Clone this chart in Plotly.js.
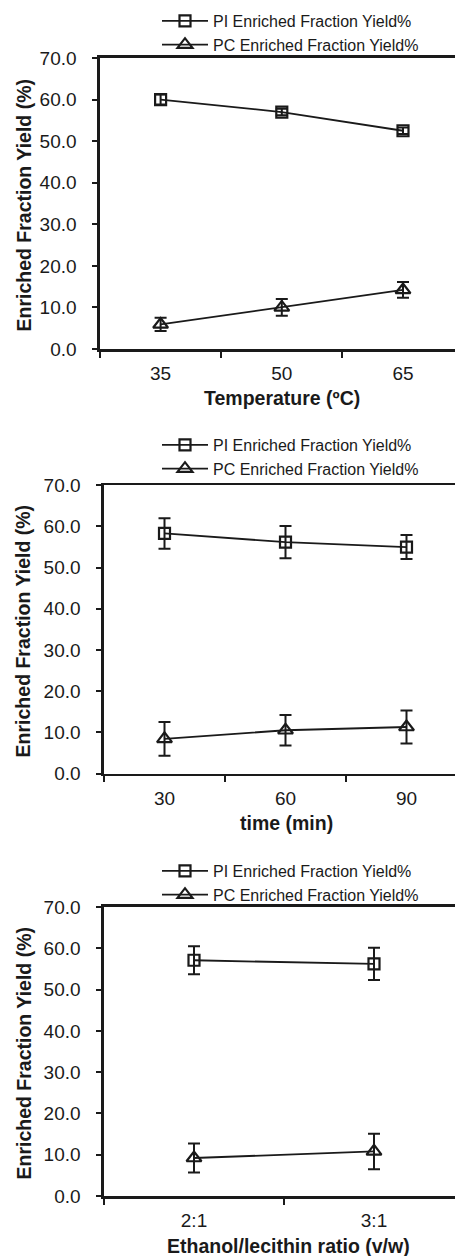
<!DOCTYPE html>
<html><head><meta charset="utf-8">
<script src="https://cdn.plot.ly/plotly-3.0.1.min.js"></script>
<style>html,body{margin:0;padding:0;background:#fff}#c{width:455px;height:1256px}</style>
</head><body><div id="c"></div>
<script>
// ---- data ----
const seriesNames = ['PI Enriched Fraction Yield%', 'PC Enriched Fraction Yield%'];
const yTitle = 'Enriched Fraction Yield (%)';
const xTitles = ['Temperature (ºC)', 'time (min)', 'Ethanol/lecithin ratio (v/w)'];

const tempCats = ['35', '50', '65'];
const tempPI = [60.0, 57.0, 52.5];
const tempPIerr = [1.2, 0.8, 0.8];
const tempPC = [5.9, 10.0, 14.2];
const tempPCerr = [1.6, 2.0, 1.9];

const timeCats = ['30', '60', '90'];
const timePI = [58.3, 56.2, 55.0];
const timePIerr = [3.7, 3.9, 2.9];
const timePC = [8.4, 10.5, 11.3];
const timePCerr = [4.1, 3.7, 4.0];

const ratioCats = ['2:1', '3:1'];
const ratioPI = [57.1, 56.2];
const ratioPIerr = [3.4, 3.9];
const ratioPC = [9.2, 10.8];
const ratioPCerr = [3.5, 4.3];

// ---- styling ----
const W = 455, H = 1256;
const ink = '#1a1a1a';
const FONT = 'Liberation Sans, Arial, sans-serif';

function mk(x, y, err, i, xaxis, yaxis, leg) {
  return {
    type: 'scatter', mode: 'lines+markers',
    x: x, y: y, name: seriesNames[i],
    xaxis: xaxis, yaxis: yaxis,
    legend: leg, showlegend: true,
    line: {color: ink, width: 1.8},
    marker: {symbol: i === 0 ? 'square-open' : 'triangle-up-open', size: i === 0 ? 11 : 13,
             color: ink, line: {width: 2.2, color: ink}},
    error_y: {type: 'data', array: err, visible: true, color: ink, thickness: 2, width: 6}
  };
}

const data = [
  mk(tempCats, tempPI, tempPIerr, 0, 'x', 'y', 'legend'),
  mk(tempCats, tempPC, tempPCerr, 1, 'x', 'y', 'legend'),
  mk(timeCats, timePI, timePIerr, 0, 'x2', 'y2', 'legend2'),
  mk(timeCats, timePC, timePCerr, 1, 'x2', 'y2', 'legend2'),
  mk(ratioCats, ratioPI, ratioPIerr, 0, 'x3', 'y3', 'legend3'),
  mk(ratioCats, ratioPC, ratioPCerr, 1, 'x3', 'y3', 'legend3')
];

function py(px) { return 1 - px / H; }

// panel pixel geometry
const panels = [
  {left: 100, top: 58, bottom: 349, cw: 121.2},
  {left: 104, top: 485.3, bottom: 773.5, cw: 121},
  {left: 104, top: 907, bottom: 1196, cw: 180}
];

function xa(p, anchor) {
  return {
    type: 'category', domain: [p.left / W, 1], anchor: anchor,
    range: [-0.5, (W - p.left) / p.cw - 0.5],
    showline: true, linecolor: ink, linewidth: 2.6, mirror: true,
    ticks: 'outside', tickson: 'boundaries', ticklen: 6, tickwidth: 2, tickcolor: ink,
    showgrid: false, zeroline: false, fixedrange: true,
    tickfont: {family: FONT, size: 19, color: ink}, ticklabelstandoff: 6
  };
}
function ya(p, anchor) {
  return {
    domain: [py(p.bottom), py(p.top)], anchor: anchor,
    range: [0, 70], dtick: 10, tick0: 0, tickformat: '.1f',
    showline: true, linecolor: ink, linewidth: 2.6, mirror: false,
    ticks: 'outside', ticklen: 5, tickwidth: 2, tickcolor: ink,
    showgrid: false, zeroline: false, fixedrange: true,
    tickfont: {family: FONT, size: 19, color: ink}, ticklabelstandoff: 12
  };
}
function lg(topPx) {
  return {
    x: 157 / W, xanchor: 'left', y: py(topPx), yanchor: 'top',
    bgcolor: 'rgba(0,0,0,0)', borderwidth: 0,
    font: {family: FONT, size: 16, color: ink},
    itemwidth: 46, tracegroupgap: 0, traceorder: 'normal',
    itemclick: false, itemdoubleclick: false
  };
}

const annotations = [];
panels.forEach(function (p) {
  annotations.push({
    xref: 'paper', yref: 'paper', x: 23 / W, y: py((p.top + p.bottom) / 2 + 2),
    text: '<b>' + yTitle + '</b>', textangle: -90, showarrow: false,
    xanchor: 'center', yanchor: 'middle',
    font: {family: FONT, size: 19.5, color: ink}
  });
});
const xTitlePos = [[282, 398], [286, 823], [288, 1246]];
xTitles.forEach(function (t, k) {
  annotations.push({
    xref: 'paper', yref: 'paper', x: xTitlePos[k][0] / W, y: py(xTitlePos[k][1]),
    text: '<b>' + t + '</b>', showarrow: false, xanchor: 'center', yanchor: 'middle',
    font: {family: FONT, size: 19.5, color: ink}
  });
});

const layout = {
  width: W, height: H, margin: {l: 0, r: 0, t: 0, b: 0},
  paper_bgcolor: '#fff', plot_bgcolor: '#fff',
  font: {family: FONT, color: ink},
  xaxis: xa(panels[0], 'y'), yaxis: ya(panels[0], 'x'),
  xaxis2: xa(panels[1], 'y2'), yaxis2: ya(panels[1], 'x2'),
  xaxis3: xa(panels[2], 'y3'), yaxis3: ya(panels[2], 'x3'),
  legend: lg(4), legend2: lg(428), legend3: lg(854),
  annotations: annotations
};

Plotly.newPlot('c', data, layout, {displayModeBar: false, staticPlot: true});
</script></body></html>
